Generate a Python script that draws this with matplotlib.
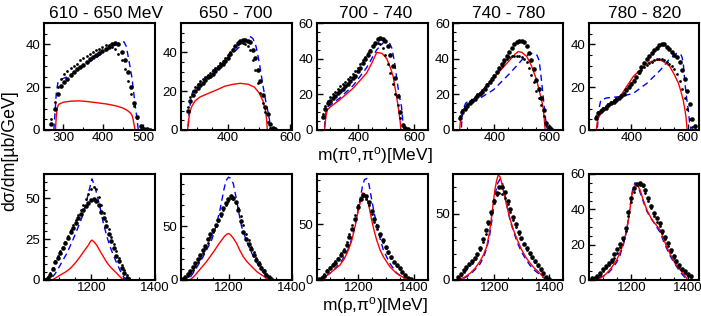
import matplotlib
matplotlib.use("Agg")
import matplotlib.pyplot as plt
from matplotlib.ticker import MultipleLocator

plt.rcParams['font.family'] = ['Liberation Sans', 'DejaVu Sans']
plt.rcParams['mathtext.fontset'] = 'custom'
plt.rcParams['mathtext.rm'] = 'Liberation Sans'
plt.rcParams['mathtext.it'] = 'Liberation Sans:italic'

titles = ["610 - 650 MeV", "650 - 700", "700 - 740", "740 - 780", "780 - 820"]

# ---------------- top row: m(pi0,pi0) ----------------
# 610 - 650
t1_dot_x = [270, 278, 286, 294, 302, 310, 318, 326, 334, 342, 350, 358, 366, 374, 382, 390,
            398, 406, 414, 422, 430, 438, 446, 454, 462, 470, 478, 486, 494, 502, 510, 518]
t1_big = [3, 10, 17, 20.5, 22.5, 24, 25.5, 27, 28.5, 29.5, 30.5, 32, 33, 34, 35, 36,
          37, 38, 39, 40, 40.5, 40, 36.5, 32.5, 27, 20, 12.5, 6, 1.8, 0.6, 0.3, 0.1]
t1_small = [5, 13, 20, 24, 26, 27.5, 29, 30, 31, 32.5, 33.5, 34.5, 35.5, 36.5, 37.5, 38,
            39, 39.5, 39.5, 39, 38, 35.5, 32.5, 28.5, 23, 17, 11, 5.5, 1.5, 0.5, 0.2, 0]
t1_red_x = [250, 280, 282, 284, 288, 300, 320, 340, 360, 390, 410, 434, 450, 460, 468, 472, 475, 477, 479, 480, 530]
t1_red_y = [0, 0, 6, 10, 12, 13, 13.5, 13.6, 13.3, 12.6, 12.1, 11.2, 10.2, 9.2, 8, 7, 5, 3, 1, 0, 0]
t1_blue_x = [250, 276, 279, 282, 286, 292, 305, 320, 350, 384, 417, 442, 452, 458, 465, 472, 480, 485, 488, 530]
t1_blue_y = [0, 0, 8, 17, 22, 23.5, 24.5, 26, 30, 34, 38.5, 40.8, 41.2, 39, 32, 24.5, 12, 5, 0, 0]

# 650 - 700
t2_dot_x = [272, 280, 288, 296, 304, 312, 320, 328, 336, 344, 352, 360, 368, 376, 384, 392, 400, 408,
            416, 424, 432, 440, 448, 456, 464, 472, 480, 488, 496, 504, 512, 520, 528, 536, 544, 552]
t2_big = [10, 15, 18, 20, 21.5, 23, 24, 25.5, 27, 28, 29, 30.5, 32, 33, 34, 35.5, 37, 39,
          41, 43, 44.5, 45.5, 46.5, 46.5, 46, 45, 41, 37, 31, 25, 18, 12, 8, 3, 1, 0.3]
t2_small = [12, 17, 20, 22, 23.5, 25, 26, 27.5, 28.5, 29.5, 31, 32, 33, 34.5, 35.5, 37, 38.5, 40,
            41.5, 43, 44, 44.5, 44.5, 44, 43, 41, 36, 31, 24, 19, 14, 9, 4, 1, 0.3, 0]
t2_red_x = [250, 271, 273, 276, 280, 284, 295, 311, 340, 364, 390, 417, 440, 465, 485, 500, 512, 520, 524, 526, 605]
t2_red_y = [0, 0, 3, 7, 10, 12, 15, 17, 19, 20.6, 22.5, 23.5, 24, 23.5, 22, 19, 15, 10, 5, 0, 0]
t2_blue_x = [250, 272, 276, 280, 286, 295, 310, 340, 380, 420, 450, 465, 472, 480, 490, 500, 513, 522, 530, 538, 605]
t2_blue_y = [0, 0, 8, 14, 19, 21.5, 24, 28.5, 34, 40, 45, 47, 48, 47, 43, 35, 22, 14, 8, 0, 0]

# 700 - 740
t3_dot_x = [272, 281, 290, 299, 308, 317, 326, 335, 344, 353, 362, 371, 380, 389, 398, 407, 416, 425,
            434, 443, 452, 461, 470, 479, 488, 497, 506, 515, 524, 533, 542, 551, 560, 569, 578]
t3_big = [7.5, 12, 15, 16.5, 18, 19, 20.5, 22, 23, 24.5, 26, 27.5, 29, 30.5, 33, 35, 37.5, 40,
          42, 44.5, 47, 49, 51, 51.5, 51, 50, 47, 42, 36, 29, 19, 10, 3, 1.2, 0.5]
t3_small = [9, 13.5, 16.5, 18.5, 20, 21.5, 23, 24.5, 26, 27, 28.5, 30, 31.5, 33, 35, 37, 39, 41,
            43, 45, 47, 48.5, 49, 48, 46, 42, 37, 32, 26, 20, 14, 7, 2.5, 1, 0.3]
t3_red_x = [250, 279, 282, 285, 290, 300, 334, 382, 430, 450, 466, 485, 502, 515, 525, 537, 545, 550, 553, 650]
t3_red_y = [0, 0, 5, 9, 11.5, 13, 17, 23.5, 32, 38, 43.5, 43, 40, 35, 30, 19, 11, 5, 0, 0]
t3_blue_x = [250, 278, 281, 285, 290, 300, 334, 382, 430, 466, 490, 508, 520, 530, 537, 546, 555, 561, 564, 650]
t3_blue_y = [0, 0, 6, 11, 13, 14, 18, 25, 35, 45, 49, 50, 46, 38, 30, 20, 13, 3, 0, 0]

# 740 - 780
t4_dot_x = [274, 283, 292, 301, 310, 319, 328, 337, 346, 355, 364, 373, 382, 391, 400, 409, 418, 427, 436,
            445, 454, 463, 472, 481, 490, 499, 508, 517, 526, 535, 544, 553, 562, 571, 580, 589, 598, 607]
t4_big = [6.5, 10, 12, 13.5, 15, 16.5, 17.5, 19, 20, 21.5, 23, 25, 27, 28.5, 30.5, 32.5, 35, 37, 39,
          41.5, 44, 46, 48, 49.5, 50, 50, 49.5, 47, 43, 39, 34, 28, 23, 18, 11, 4, 1.5, 0.5]
t4_small = [8, 11, 13, 14.5, 16, 17, 18.5, 20, 21, 22.5, 24, 26, 27.5, 29, 31, 32.5, 34, 36, 38,
            40, 41, 41.5, 41.5, 41.5, 41.5, 41, 40, 38, 35, 31, 27, 22, 18, 14, 8, 3, 1, 0.3]
t4_red_x = [250, 273, 276, 280, 286, 300, 335, 396, 457, 475, 487, 500, 518, 535, 554, 565, 572, 578, 581, 585, 650]
t4_red_y = [0, 0, 5, 8.5, 11.2, 13.5, 18.7, 29, 39.4, 42.5, 44, 43.5, 41.2, 36, 28, 21, 17, 12, 7.5, 0, 0]
t4_blue_x = [250, 279, 282, 287, 295, 310, 347, 396, 457, 506, 525, 540, 555, 563, 570, 577, 584, 590, 594, 650]
t4_blue_y = [0, 0, 7, 12, 15, 16.9, 17.8, 22.5, 31.9, 40.3, 42.5, 43, 42, 39, 30, 20, 9.4, 2, 0, 0]

# 780 - 820
t5_dot_x = [274, 283, 292, 301, 310, 319, 328, 337, 346, 355, 364, 373, 382, 391, 400, 409, 418, 427, 436, 445,
            454, 463, 472, 481, 490, 499, 508, 517, 526, 535, 544, 553, 562, 571, 580, 589, 598, 607, 616, 625]
t5_big = [5.5, 8, 9, 9.8, 10.5, 11.5, 12.5, 13.2, 14, 15, 16, 17, 18.5, 20, 21.5, 23, 25, 27, 29.5, 31.5,
          33, 34.5, 36, 37.5, 38.5, 39.5, 40, 40, 39, 38, 36.5, 35, 34, 32, 28, 24, 18, 12, 5, 2]
t5_small = [6.5, 8.5, 9.5, 10.5, 11, 12, 13, 14, 15, 15.5, 16.5, 17.5, 19, 20.5, 22, 23.5, 25, 26.5, 28, 29.5,
            30.5, 31.5, 32, 32.5, 33, 33, 33, 32.5, 32, 31, 30, 28.5, 26, 23, 19, 15, 10, 5, 1.5, 0.5]
t5_red_x = [250, 276, 279, 283, 289, 300, 313, 360, 407, 455, 480, 503, 520, 537, 552, 567, 576, 584, 590, 594, 598, 640]
t5_red_y = [0, 0, 3.5, 5.5, 7, 8.5, 10.1, 15.6, 25, 31.1, 32.5, 32.7, 31.5, 29.6, 26, 21.9, 18, 14, 9.5, 6, 0, 0]
t5_blue_x = [250, 279, 283, 287, 292, 313, 360, 407, 455, 503, 532, 561, 575, 580, 585, 590, 596, 602, 607, 612, 640]
t5_blue_y = [0, 0, 6, 11, 14, 15, 15.6, 17.1, 21.8, 28, 32.7, 35.8, 35.5, 34, 30, 22, 15, 9.3, 3, 0, 0]

# ---------------- bottom row: m(p,pi0) ----------------
# 610 - 650
b1_dot_x = [1055, 1063, 1071, 1079, 1087, 1095, 1103, 1111, 1119, 1127, 1135, 1143, 1151, 1159, 1167, 1175, 1183,
            1191, 1199, 1207, 1215, 1223, 1231, 1239, 1247, 1255, 1263, 1271, 1279, 1287, 1295, 1303, 1311, 1319]
b1_big = [0.3, 1.5, 3, 6.5, 11, 13.5, 16.5, 19.5, 22.5, 26, 29.5, 32, 35, 38, 40.5, 43, 45.5,
          47.5, 49, 49.5, 48.5, 46, 42, 38, 33, 28, 24, 19.5, 15, 11.5, 7.5, 4.5, 1.5, 0.3]
b1_small = [0.5, 2, 4, 7.5, 11.5, 14.5, 17.5, 20.5, 23.5, 27, 30.5, 33.5, 36.5, 40, 43, 46, 49.5,
            53, 56, 57, 55.5, 51, 46, 41, 36, 31, 26.5, 22, 17.5, 13.5, 9.5, 6, 3, 1]
b1_red_x = [1050, 1078, 1081, 1090, 1102, 1120, 1134, 1150, 1165, 1180, 1191, 1197, 1202, 1208, 1217, 1228,
            1238, 1248, 1259, 1270, 1280, 1290, 1301, 1400]
b1_red_y = [0, 0, 0.5, 1.5, 3, 5, 7.1, 10.5, 14.3, 18.5, 21.4, 23.5, 24.5, 23.5, 21.4, 17.5,
            14.3, 11, 8.2, 6, 4.1, 2, 0, 0]
b1_blue_x = [1050, 1068, 1075, 1087, 1105, 1123, 1140, 1155, 1170, 1181, 1192, 1202, 1210, 1217, 1228, 1238,
             1250, 1259, 1270, 1280, 1290, 1301, 1310, 1400]
b1_blue_y = [0, 0, 1, 4, 10, 16.3, 23.5, 30.6, 38, 45, 54, 62, 58, 53, 44, 34.7,
             26, 20.4, 15, 10.2, 6, 2, 0, 0]

# 650 - 700
b2_dot_x = [1055, 1063, 1071, 1079, 1087, 1095, 1103, 1111, 1119, 1127, 1135, 1143, 1151, 1159, 1167, 1175, 1183, 1191,
            1199, 1207, 1215, 1223, 1231, 1239, 1247, 1255, 1263, 1271, 1279, 1287, 1295, 1303, 1311, 1319, 1327, 1335]
b2_big = [1, 3, 5.5, 8, 12, 16, 19.5, 23.5, 28, 32, 38, 42.5, 46.5, 51.5, 56, 62, 67, 71.5,
          75.5, 78, 77, 73, 65, 55, 45, 38, 33.5, 29, 23.5, 19, 15, 11.5, 8, 5, 2.5, 1]
b2_small = [0.5, 2, 4, 6.5, 9.5, 13, 17, 21, 25, 30, 35, 40, 45, 50, 55, 60, 65.5, 70,
            74, 76.5, 76, 72, 67, 60, 51, 43, 37, 31, 26, 21, 16.5, 12.5, 9, 5.5, 3, 1]
b2_red_x = [1050, 1075, 1082, 1090, 1110, 1130, 1152, 1170, 1185, 1193, 1200, 1207, 1215, 1225, 1235, 1246,
            1257, 1268, 1280, 1289, 1300, 1310, 1325, 1400]
b2_red_y = [0, 0, 1, 3, 10, 17, 26, 34, 40, 42.5, 43.5, 42, 39, 34.4, 28, 21.9,
            17.5, 14, 10.5, 7.8, 5.5, 3.7, 0, 0]
b2_blue_x = [1050, 1068, 1080, 1095, 1120, 1147, 1160, 1173, 1185, 1192, 1200, 1207, 1215, 1225, 1233, 1241,
             1257, 1278, 1299, 1320, 1336, 1400]
b2_blue_y = [0, 0, 3, 9.4, 21.9, 37.5, 50, 65.6, 84, 93, 96, 95, 90, 75, 62, 50,
             35.9, 21.9, 11, 3.1, 0, 0]

# 700 - 740
b3_dot_x = [1058, 1068, 1078, 1088, 1098, 1108, 1118, 1128, 1138, 1148, 1158, 1168, 1178, 1188, 1198, 1208, 1218,
            1228, 1238, 1248, 1258, 1268, 1278, 1288, 1298, 1308, 1318, 1328, 1338, 1348, 1358, 1368, 1378, 1388]
b3_big = [0.5, 2, 4, 8, 10.5, 13, 15.5, 18.5, 22, 26, 31.5, 38.5, 46, 55, 65, 73, 76,
          75, 70, 62, 55, 48, 41.5, 35.5, 30, 25, 20.5, 16.5, 13, 10.5, 7.5, 4.5, 2, 0.5]
b3_small = [0.5, 2.5, 5, 9, 12, 14.5, 17, 20, 24, 28, 34, 41, 49, 58, 67, 73, 75,
            73, 67, 59, 52, 45.5, 39.5, 34, 29, 24, 20, 16, 12.5, 10, 7, 4, 1.8, 0.5]
b3_red_x = [1050, 1065, 1080, 1098, 1115, 1134, 1150, 1164, 1176, 1188, 1198, 1206, 1215, 1222, 1230, 1240,
            1248, 1257, 1266, 1278, 1290, 1313, 1337, 1361, 1375, 1450]
b3_red_y = [0, 0, 2.5, 6, 9.5, 13.4, 19, 26.8, 35, 47.6, 60, 68.5, 78, 77.5, 74.4, 64,
            53.6, 44, 35.7, 27, 20.8, 11.9, 6, 2.4, 0, 0]
b3_blue_x = [1050, 1062, 1080, 1098, 1116, 1134, 1158, 1170, 1182, 1194, 1206, 1215, 1222, 1230, 1238, 1248,
             1257, 1266, 1278, 1290, 1313, 1337, 1361, 1375, 1450]
b3_blue_y = [0, 0, 3, 6, 10, 15, 24, 32, 42, 56, 72, 84, 90, 91, 86, 72,
             60, 50, 37, 26.8, 14.9, 6.5, 1.5, 0, 0]

# 740 - 780
b4_dot_x = [1068, 1078, 1088, 1098, 1108, 1118, 1128, 1138, 1148, 1158, 1168, 1178, 1188, 1198, 1208, 1218, 1228,
            1238, 1248, 1258, 1268, 1278, 1288, 1298, 1308, 1318, 1328, 1338, 1348, 1358, 1368, 1378, 1388, 1398]
b4_big = [2, 4.5, 7.5, 10, 12, 14, 16.5, 19.5, 24, 31, 37.5, 43.5, 51, 60, 66, 70.5, 70.5,
          66.5, 60, 53.5, 47.5, 42, 36.5, 32, 27.5, 24, 20.5, 17.5, 14, 11, 8, 5, 2, 0.5]
b4_small = [1.5, 3.5, 6, 8.5, 11, 13, 15.5, 18.5, 22.5, 28.5, 35, 42, 50, 58, 64, 66, 65,
            62, 57, 51, 45.5, 40, 35, 31, 27, 23, 19.5, 16.5, 13.5, 10.5, 7.5, 4.5, 2, 0.5]
b4_red_x = [1050, 1070, 1090, 1111, 1130, 1147, 1160, 1172, 1182, 1190, 1196, 1202, 1208, 1214, 1220, 1226,
            1235, 1245, 1257, 1269, 1284, 1299, 1315, 1330, 1345, 1360, 1375, 1384, 1393, 1450]
b4_red_y = [0, 0.5, 2, 5, 9, 14, 19, 25.4, 36, 48.2, 59, 68.5, 75, 79.5, 78, 73.6,
            65, 55.8, 46, 38, 30, 22.8, 17, 12.7, 9, 6.3, 3, 1.3, 0, 0]
b4_blue_x = [1050, 1074, 1090, 1111, 1130, 1147, 1160, 1172, 1182, 1190, 1198, 1205, 1212, 1220, 1228, 1236,
             1245, 1257, 1269, 1284, 1299, 1315, 1330, 1345, 1360, 1375, 1384, 1395, 1450]
b4_blue_y = [0, 0, 1.5, 4, 8, 12, 17, 24, 33, 44, 57, 67, 73, 76, 74.5, 67,
             57, 45, 37, 28, 21, 15.5, 11, 7.5, 5, 2.5, 1, 0, 0]

# 780 - 820
b5_dot_x = [1060, 1070, 1080, 1090, 1100, 1110, 1120, 1130, 1140, 1150, 1160, 1170, 1180, 1190, 1200, 1210, 1220, 1230,
            1240, 1250, 1260, 1270, 1280, 1290, 1300, 1310, 1320, 1330, 1340, 1350, 1360, 1370, 1380, 1390, 1400, 1410]
b5_big = [0.9, 1.3, 2, 4, 6.5, 8, 9.5, 11.3, 14.5, 17.5, 20.5, 24, 29.5, 38.5, 46.5, 52, 54.5, 54.8,
          53.9, 51, 46.5, 42, 38, 35, 32.5, 28, 24.5, 21, 17, 13.5, 11, 8.5, 6.5, 5, 3.5, 2.5]
b5_small = [0.5, 1, 1.5, 3, 5, 7, 8.5, 10, 12.5, 15.5, 18.5, 22.5, 28, 36, 44, 50, 53.5, 54,
            53, 49.5, 45, 40.5, 36.5, 33, 30.5, 26.5, 23, 19.5, 16, 12.5, 10, 7.5, 5.5, 4, 2.5, 1.5]
b5_red_x = [1050, 1077, 1095, 1113, 1130, 1148, 1160, 1172, 1182, 1189, 1195, 1201, 1209, 1217, 1224, 1231,
            1243, 1255, 1267, 1278, 1290, 1302, 1313, 1325, 1340, 1355, 1367, 1379, 1390, 1400]
b5_red_y = [0, 0, 1.5, 3.8, 7, 11.3, 15.5, 20.8, 27, 33.1, 40, 47.2, 52, 54.8, 53, 51,
            45, 39.7, 36, 33.1, 30.8, 28.4, 24, 18.9, 14, 9.5, 6.8, 4.7, 2.5, 0]
b5_blue_x = [1050, 1065, 1090, 1113, 1130, 1148, 1160, 1172, 1182, 1189, 1195, 1201, 1207, 1213, 1220, 1228,
             1240, 1255, 1267, 1278, 1290, 1302, 1313, 1325, 1340, 1355, 1367, 1379, 1392, 1400, 1440]
b5_blue_y = [0, 0, 1.5, 3, 6, 10, 14, 20, 27, 34, 41, 48, 53, 55, 54.5, 51,
             45.5, 39, 35.5, 33, 30, 27, 22.5, 18, 13, 9, 6, 3.5, 1, 0, 0]

# axis settings
top_xlim = [(250, 530), (250, 605), (250, 650), (250, 650), (250, 640)]
top_xticks = [[300, 400, 500], [400, 600], [400, 600], [400, 600], [400, 600]]
top_ylim = [50, 55, 60, 60, 50]
top_yticks = [[0, 20, 40], [0, 20, 40], [0, 20, 40, 60], [0, 20, 40, 60], [0, 20, 40]]
bot_xlim = [(1050, 1400), (1050, 1400), (1050, 1450), (1050, 1450), (1050, 1440)]
bot_xticks = [[1200, 1400]] * 5
bot_ylim = [65, 99, 95, 80, 60]
bot_yticks = [[0, 25, 50], [0, 50], [0, 50], [0, 50], [0, 20, 40, 60]]
bot_yminor = [5, 10, 10, 10, 5]

top_data = [
    (t1_dot_x, t1_big, t1_small, t1_red_x, t1_red_y, t1_blue_x, t1_blue_y),
    (t2_dot_x, t2_big, t2_small, t2_red_x, t2_red_y, t2_blue_x, t2_blue_y),
    (t3_dot_x, t3_big, t3_small, t3_red_x, t3_red_y, t3_blue_x, t3_blue_y),
    (t4_dot_x, t4_big, t4_small, t4_red_x, t4_red_y, t4_blue_x, t4_blue_y),
    (t5_dot_x, t5_big, t5_small, t5_red_x, t5_red_y, t5_blue_x, t5_blue_y),
]
bot_data = [
    (b1_dot_x, b1_big, b1_small, b1_red_x, b1_red_y, b1_blue_x, b1_blue_y),
    (b2_dot_x, b2_big, b2_small, b2_red_x, b2_red_y, b2_blue_x, b2_blue_y),
    (b3_dot_x, b3_big, b3_small, b3_red_x, b3_red_y, b3_blue_x, b3_blue_y),
    (b4_dot_x, b4_big, b4_small, b4_red_x, b4_red_y, b4_blue_x, b4_blue_y),
    (b5_dot_x, b5_big, b5_small, b5_red_x, b5_red_y, b5_blue_x, b5_blue_y),
]

W, H = 701, 316
lefts = [43.5, 181, 316.5, 453.3, 589]
widths = [111.5, 111, 111.5, 109.7, 110]
title_x = [106, 236, 376, 509, 645]

fig = plt.figure(figsize=(W / 100, H / 100), dpi=100)


def draw_panel(ax, d):
    dot_x, big, small, rx, ry, bx, by = d
    ax.plot(bx, by, color='#0000ff', lw=1.0, ls=(0, (4.5, 3)))
    ax.plot(rx, ry, color='#ff0000', lw=1.0)
    ax.plot(dot_x, small, 'o', color='black', ms=2.0, mew=0)
    ax.plot(dot_x, big, 'o', color='black', ms=3.3, mew=0)


def style(ax, xlim, xticks, ylim, yticks, yminor):
    ax.set_xlim(*xlim)
    ax.set_ylim(0, ylim)
    ax.set_xticks(xticks)
    ax.set_yticks(yticks)
    ax.xaxis.set_minor_locator(MultipleLocator(50))
    ax.yaxis.set_minor_locator(MultipleLocator(yminor))
    for s in ax.spines.values():
        s.set_linewidth(1.5)
    ax.tick_params(which='both', direction='in', top=False, right=False, labelsize=9.5)
    ax.tick_params(axis='y', pad=2.5)
    ax.tick_params(axis='x', pad=1.5)
    ax.tick_params(which='major', length=4, width=1)
    ax.tick_params(which='minor', length=2, width=0.8)


for i in range(5):
    ax = fig.add_axes([lefts[i] / W, 1 - 130 / H, widths[i] / W, 107 / H])
    draw_panel(ax, top_data[i])
    style(ax, top_xlim[i], top_xticks[i], top_ylim[i], top_yticks[i], 5)
    fig.text(title_x[i] / W, 1 - 13 / H, titles[i], ha='center', va='center', fontsize=12.5)

    ax = fig.add_axes([lefts[i] / W, 1 - 280 / H, widths[i] / W, 106 / H])
    draw_panel(ax, bot_data[i])
    style(ax, bot_xlim[i], bot_xticks[i], bot_ylim[i], bot_yticks[i], bot_yminor[i])

fig.text(375 / W, 1 - 155.5 / H, r'm(π$^{\rm o}$,π$^{\rm o}$)[MeV]', ha='center', va='center', fontsize=12.5)
fig.text(375 / W, 1 - 306 / H, r'm(p,π$^{\rm o}$)[MeV]', ha='center', va='center', fontsize=12.5)
fig.text(10 / W, 1 - 151 / H, 'dσ/dm[µb/GeV]', ha='center', va='center', rotation=90, fontsize=12.8)

fig.savefig('out.png', dpi=100)
